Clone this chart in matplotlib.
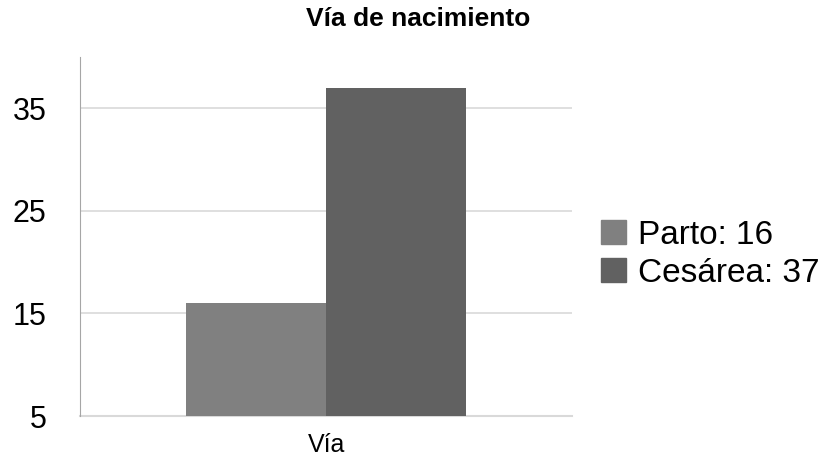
import matplotlib.pyplot as plt
from matplotlib.patches import Patch

# Data
categoria = "Vía"
series = ["Parto", "Cesárea"]
valores = [16, 37]
colores = ["#808080", "#616161"]

plt.rcParams['font.family'] = ['Liberation Sans', 'DejaVu Sans']

fig = plt.figure(figsize=(8.37, 4.63), dpi=100)
ax = fig.add_axes([0.0956, 0.1015, 0.588, 0.775])

ancho = 1.0
offsets = [-0.5, 0.5]
for off, v, c in zip(offsets, valores, colores):
    ax.bar(off, v - 5, bottom=5, width=ancho, color=c, zorder=3)

ax.set_xlim(-1.757, 1.757)
ax.set_ylim(5, 40)
ax.set_yticks([5, 15, 25, 35])
ax.yaxis.grid(True, color="#d9d9d9", linewidth=1.2, zorder=0)
ax.axhline(5, color="#d9d9d9", linewidth=1.5, zorder=1, clip_on=False)
ax.set_xticks([0])
ax.set_xticklabels([categoria], fontsize=18)
ax.tick_params(axis="both", length=0)
ax.tick_params(axis="y", labelsize=22, pad=24)
ax.tick_params(axis="x", pad=12)

for s in ["top", "right", "bottom"]:
    ax.spines[s].set_visible(False)
ax.spines["left"].set_color("#a6a6a6")

fig.text(0.5, 0.958, "Vía de nacimiento", ha="center", va="center",
         fontsize=19, fontweight="bold")

handles = [Patch(color=c) for c in colores]
labels = [f"{s}: {v}" for s, v in zip(series, valores)]
fig.legend(handles, labels, loc="center left", bbox_to_anchor=(0.702, 0.451),
           frameon=False, fontsize=24, handlelength=0.75, handleheight=0.75,
           handletextpad=0.35, labelspacing=0.2, borderaxespad=0)

fig.savefig("out.png", dpi=100)
